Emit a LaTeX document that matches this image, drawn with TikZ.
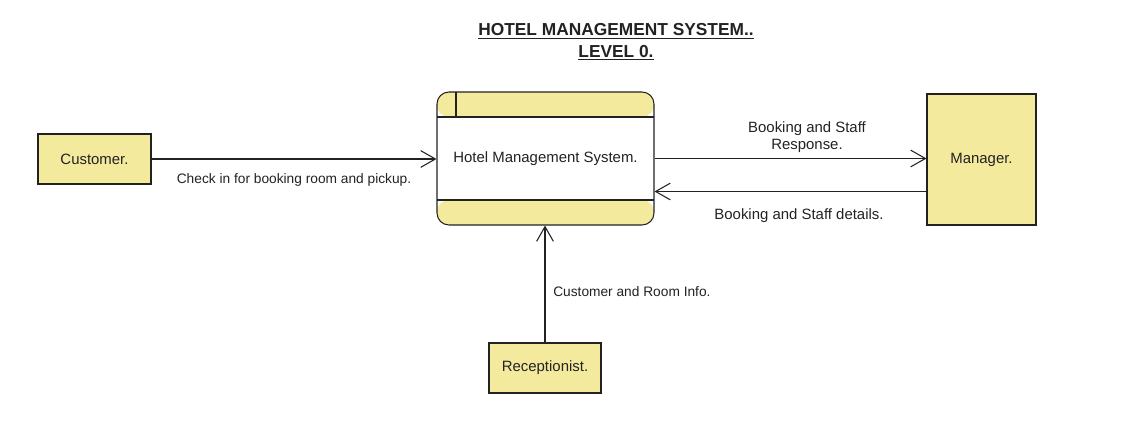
\documentclass[tikz,border=0pt]{standalone}
\usepackage{fontspec}
\setmainfont{Liberation Sans}
\usetikzlibrary{arrows.meta}
\definecolor{entityfill}{HTML}{F4EA9E}
\definecolor{edgegray}{HTML}{222222}

\begin{document}
\begin{tikzpicture}[
        x=0.75pt, y=-0.75pt,
        font=\fontsize{11.2}{13}\selectfont, text=edgegray,
        entity/.style={rectangle,draw=edgegray,fill=entityfill,line width=0.8pt,inner sep=0pt},
        process/.style={rectangle,draw=edgegray,fill=white,line width=0.8pt,rounded corners=9pt,
            minimum width=162.75pt,minimum height=99.75pt,
            path picture={
                \fill[entityfill] (path picture bounding box.north west) rectangle ([yshift=-18.75pt]path picture bounding box.north east);
                \fill[entityfill] (path picture bounding box.south west) rectangle ([yshift=18.75pt]path picture bounding box.south east);
                \draw[edgegray,line width=0.8pt] ([yshift=-18.75pt]path picture bounding box.north west) -- ([yshift=-18.75pt]path picture bounding box.north east);
                \draw[edgegray,line width=0.8pt] ([yshift=18.75pt]path picture bounding box.south west) -- ([yshift=18.75pt]path picture bounding box.south east);
                \draw[edgegray,line width=0.8pt] ([xshift=14.25pt]path picture bounding box.north west) -- ([xshift=14.25pt,yshift=-18.75pt]path picture bounding box.north west);
            }},
        flow/.style={draw=edgegray,line width=0.8pt,-{Straight Barb[length=11pt,width=12.5pt]}},
        flowlabel/.style={inner sep=0pt,align=center},
        smalllabel/.style={flowlabel,font=\fontsize{10.3}{12.8}\selectfont}
        ]
    \useasboundingbox (0, 0) rectangle (1140, 424);

    \node (title) at (616, 42) [align=center,font=\fontsize{13}{16}\selectfont\bfseries]
        {\underline{HOTEL MANAGEMENT SYSTEM..}\\\underline{LEVEL 0.}};

    \node (cust) at (94.5, 159) [entity,minimum width=84.75pt,minimum height=37.5pt] {Customer.};
    \node (hms) at (545.5, 158.5) [process] {Hotel Management System.};
    \node (mgr) at (981.5, 159.5) [entity,minimum width=81.75pt,minimum height=98.25pt] {Manager.};
    \node (rec) at (545, 368) [entity,minimum width=84pt,minimum height=37.5pt] {Receptionist.};

    \draw[flow] (cust.east) to (cust.east -| hms.west);
    \draw[flow] (hms.east) to (hms.east -| mgr.west);
    \draw[flow] ([yshift=-24pt]mgr.west) to ([yshift=-24pt]mgr.west -| hms.east);
    \draw[flow] (rec.north) to (rec.north |- hms.south);

    \node (lcheck) at (294, 180) [smalllabel] {Check in for booking room and pickup.};
    \node (lresp) at (807, 137) [flowlabel] {Booking and Staff\\Response.};
    \node (ldet) at (799, 216) [flowlabel] {Booking and Staff details.};
    \node (linfo) at (553, 292) [smalllabel,anchor=west] {Customer and Room Info.};
\end{tikzpicture}
\end{document}
